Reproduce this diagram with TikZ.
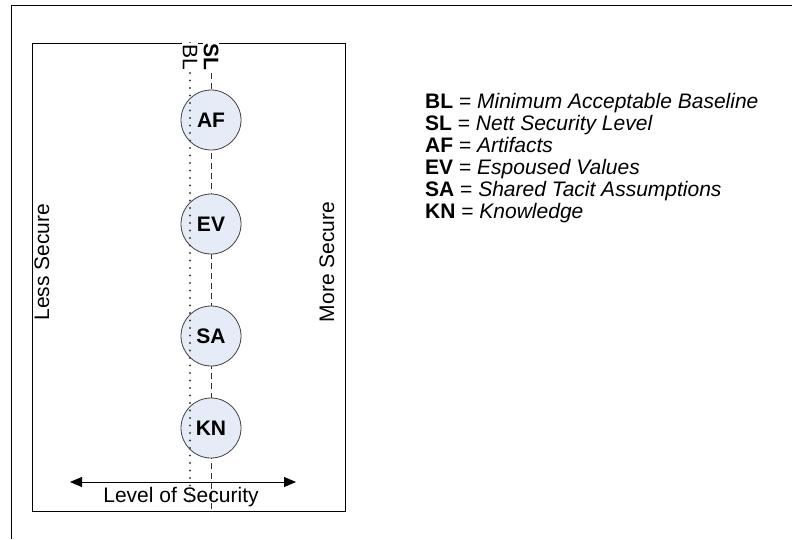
\documentclass[tikz,border=0pt]{standalone}
\usepackage{fontspec}
\setmainfont{Liberation Sans}
\usetikzlibrary{arrows.meta}
\definecolor{layerfill}{HTML}{E6ECF7}
\definecolor{layeredge}{HTML}{404040}
\newcommand{\diagfont}{\fontsize{21}{24}\selectfont}
\tikzset{
  frameline/.style={line width=0.9pt, black},
  layer/.style={circle, minimum size=60pt, inner sep=0pt, fill=layerfill,
    draw=layeredge, line width=0.8pt, font=\diagfont\bfseries},
  sidetext/.style={font=\diagfont, rotate=90},
  levellabel/.style={fill=white, inner sep=1pt, rotate=-90, font=\diagfont},
  legendline/.style={anchor=base west, inner sep=0pt, font=\diagfont},
  baseline line/.style={line width=2.2pt, dash pattern=on 0pt off 7.5pt, line cap=round, black!75},
  security line/.style={line width=0.8pt, dash pattern=on 6pt off 4pt, black!80},
}
\begin{document}
\begin{tikzpicture}[x=1pt,y=-1pt]
  \useasboundingbox (0,0) rectangle (792,539);
  % outer frame
  \draw[frameline] (11,539) -- (11,5) -- (792,5);
  % inner panel
  \draw[frameline] (32,43) rectangle (345,511);

  % vertical reference lines (security level behind the layers)
  \coordinate (slTop) at (211,43);
  \coordinate (slBot) at (211,511);
  \coordinate (blTop) at (190,43);
  \coordinate (blBot) at (190,506);
  \draw[security line] (slTop) -- (slBot);

  % culture layers
  \node[layer] (af) at (211,120) {AF};
  \node[layer] (ev) at (211,224) {EV};
  \node[layer] (sa) at (211,336) {SA};
  \node[layer] (kn) at (211,428) {KN};

  % security axis
  \coordinate (axL) at (70,482);
  \coordinate (axR) at (296,482);
  \draw[line width=0.8pt, {Triangle[length=12pt,width=10pt]}-{Triangle[length=12pt,width=10pt]}] (axL) -- (axR);
  \node[font=\diagfont] (axis) at (181,497) {Level of Security};

  % baseline drawn over the layers
  \draw[baseline line] (blTop) -- (blBot);

  % line labels
  \node[levellabel] (bl) at (190,57) {BL};
  \node[levellabel, font=\diagfont\bfseries] (sl) at (211,57) {SL};

  % sides
  \node[sidetext] (less) at (42,262) {Less Secure};
  \node[sidetext] (more) at (327,262) {More Secure};

  % legend
  \node[legendline] (k1) at (425,108) {\textbf{BL} = \textit{Minimum Acceptable Baseline}};
  \node[legendline] (k2) at (425,130) {\textbf{SL} = \textit{Nett Security Level}};
  \node[legendline] (k3) at (425,152) {\textbf{AF} = \textit{Artifacts}};
  \node[legendline] (k4) at (425,174) {\textbf{EV} = \textit{Espoused Values}};
  \node[legendline] (k5) at (425,196) {\textbf{SA} = \textit{Shared Tacit Assumptions}};
  \node[legendline] (k6) at (425,218) {\textbf{KN} = \textit{Knowledge}};
\end{tikzpicture}
\end{document}
